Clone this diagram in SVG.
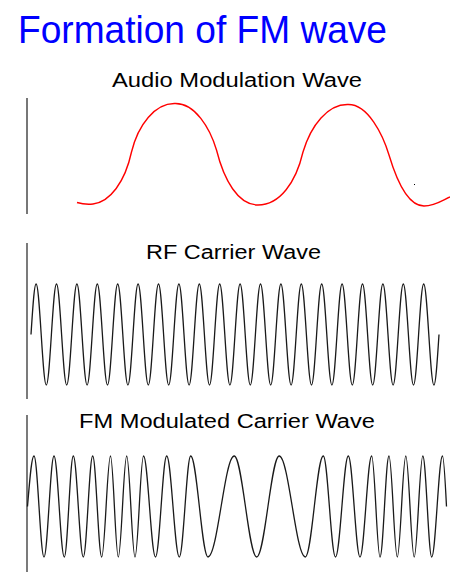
<svg xmlns="http://www.w3.org/2000/svg" width="450" height="579" viewBox="0 0 450 579">
<style>
.title{font-family:"Liberation Sans","DejaVu Sans",sans-serif;font-size:38px;fill:#0000ff}
.lbl{font-family:"Liberation Sans","DejaVu Sans",sans-serif;font-size:20px;fill:#000}
.axis{stroke:#222;stroke-width:1.2;fill:none}
.wave{stroke:#1a1a1a;stroke-width:1.3;fill:none}
.audio{stroke:#ff0000;stroke-width:1.4;fill:none}
</style>
<rect width="450" height="579" fill="#fff"/>
<text class="title" x="18" y="43" textLength="369" lengthAdjust="spacingAndGlyphs">Formation of FM wave</text>
<g id="audio">
<text class="lbl" x="112" y="87" textLength="250" lengthAdjust="spacingAndGlyphs">Audio Modulation Wave</text>
<line x1="27" y1="98" x2="27" y2="214" stroke="#777" stroke-width="2"/>
<path class="audio" d="M77,202.5 C82,204 88,204.5 93,204 C110,202 125,182 131.5,152 C138,125 155,103 175,103.5 C195,103 210,128 216.5,150 C224,180 238,205 258,205 C280,205 296,182 303,152 C311,125 328,104 348,104.5 C368,104 383,135 389,155 C398,185 410,206 424,206 C435,206 443,200 450,197"/>
<rect x="414" y="184" width="1" height="1" fill="#000"/>
</g>
<g id="carrier">
<text class="lbl" x="146" y="259" textLength="175" lengthAdjust="spacingAndGlyphs">RF Carrier Wave</text>
<line class="axis" x1="27" y1="243" x2="27" y2="399"/>
<path class="wave" d="M31,334.5 c1.66,-25.87 3.25,-50.5 5.1,-50.5 c3.707,0 6.493,101 10.2,101
s6.493,-101 10.2,-101 s6.493,101 10.2,101 s6.493,-101 10.2,-101 s6.493,101 10.2,101
s6.493,-101 10.2,-101 s6.493,101 10.2,101 s6.493,-101 10.2,-101 s6.493,101 10.2,101
s6.493,-101 10.2,-101 s6.493,101 10.2,101 s6.493,-101 10.2,-101 s6.493,101 10.2,101
s6.493,-101 10.2,-101 s6.493,101 10.2,101 s6.493,-101 10.2,-101 s6.493,101 10.2,101
s6.493,-101 10.2,-101 s6.493,101 10.2,101 s6.493,-101 10.2,-101 s6.493,101 10.2,101
s6.493,-101 10.2,-101 s6.493,101 10.2,101 s6.493,-101 10.2,-101 s6.493,101 10.2,101
s6.493,-101 10.2,-101 s6.493,101 10.2,101 s6.493,-101 10.2,-101 s6.493,101 10.2,101
s6.493,-101 10.2,-101 s6.493,101 10.2,101 s6.493,-101 10.2,-101 s6.493,101 10.2,101
s6.493,-101 10.2,-101 s6.493,101 10.2,101 s6.493,-101 10.2,-101 s6.493,101 10.2,101
s6.493,-101 10.2,-101 s6.493,101 10.2,101
c1.846,0 3.437,-24.63 5.1,-50.5"/>
</g>
<g id="fm">
<text class="lbl" x="79" y="428" textLength="296" lengthAdjust="spacingAndGlyphs">FM Modulated Carrier Wave</text>
<line class="axis" x1="27" y1="415" x2="27" y2="572"/>
<path class="wave" d="M27.5,506.5 C29.6,480.6 31.6,456 34,456
C37.63,456 40.37,557 44,557
C47.63,557 50.37,456 54,456
C57.74,456 60.56,557 64.3,557
C67.57,557 70.03,456 73.3,456
C76.93,456 79.67,557 83.3,557
C86.72,557 89.28,456 92.7,456
C95.97,456 98.43,557 101.7,557
C104.9,557 107.3,456 110.5,456
C113.33,456 115.47,557 118.3,557
C121.35,557 123.65,456 126.7,456
C129.72,456 131.98,557 135,557
C138.09,557 140.41,456 143.5,456
C147.86,456 151.14,557 155.5,557
C159.57,557 162.63,456 166.7,456
C171.28,456 174.72,557 179.3,557
C183.44,557 186.56,456 190.7,456
C196.99,456 201.71,557 208,557
C217.52,557 224.68,456 234.2,456
C242.38,456 248.52,557 256.7,557
C264.88,557 271.02,456 279.2,456
C288.68,456 295.82,557 305.3,557
C311.84,557 316.76,456 323.3,456
C327.73,456 331.07,557 335.5,557
C340.15,557 343.65,456 348.3,456
C352.55,456 355.75,557 360,557
C364.25,557 367.45,456 371.7,456
C374.72,456 376.98,557 380,557
C383.27,557 385.73,456 389,456
C392.02,456 394.28,557 397.3,557
C400.39,557 402.71,456 405.8,456
C408.85,456 411.15,557 414.2,557
C417.33,557 419.67,456 422.8,456
C426.03,456 428.47,557 431.7,557
C435.62,557 438.58,456 442.5,456
C443.95,456 445.2,480.6 446.5,506.5"/>
</g>
</svg>
